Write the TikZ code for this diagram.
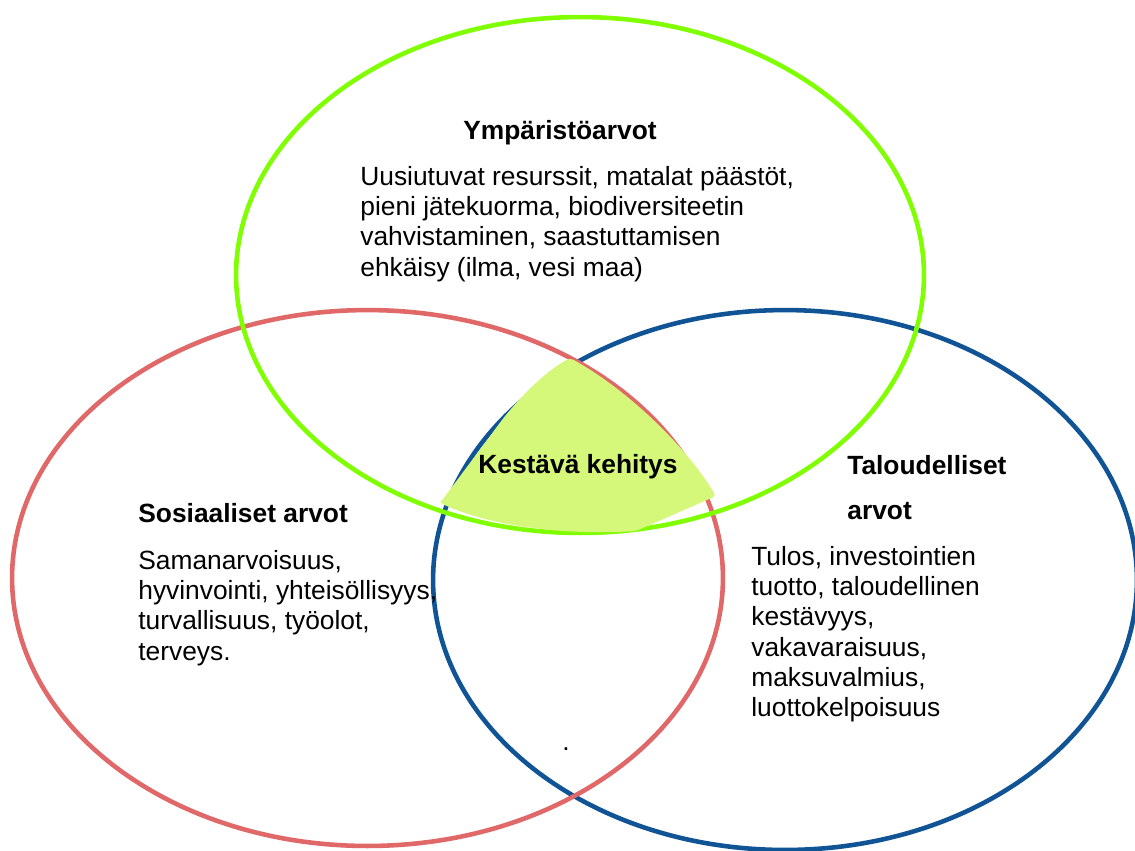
\documentclass[tikz,border=0pt]{standalone}
\usepackage{fontspec}
\setmainfont{Liberation Sans}
\definecolor{envgreen}{RGB}{128,255,0}
\definecolor{socred}{RGB}{224,104,104}
\definecolor{ecoblue}{RGB}{16,84,150}
\definecolor{corefill}{RGB}{213,248,122}
\begin{document}
\begin{tikzpicture}[x=0.02cm,y=-0.02cm,
  ring/.style={line width=2.6pt},
  txt/.style={anchor=base west, inner sep=0pt, font=\fontsize{15}{17.3}\selectfont},
  ttl/.style={txt, font=\fontsize{15}{17.3}\selectfont\bfseries}]
\useasboundingbox (0,0) rectangle (1135,850);
\fill[white] (0,0) rectangle (1135,850);
% circles
\draw[ring, ecoblue] (785,580) ellipse [x radius=7.04cm, y radius=5.4cm];
\draw[ring, socred] (367.5,578) ellipse [x radius=7.11cm, y radius=5.36cm];
\draw[ring, envgreen] (580,275) ellipse [x radius=6.88cm, y radius=5.16cm];
% core region
\fill[corefill, rounded corners=2pt] (440,503) -- (505,416)
  .. controls (527,390) and (548,370) .. (570,358)
  .. controls (620,385) and (682,440) .. (716,496)
  -- (636,531)
  .. controls (570,535) and (495,528) .. (440,503) -- cycle;
% texts
\node[ttl] (envtitle) at (463,139) {Ympäristöarvot};
\node[txt] (envbody) at (360,185) {\begin{tabular}[t]{@{}l@{}}Uusiutuvat resurssit, matalat päästöt,\\
pieni jätekuorma, biodiversiteetin\\
vahvistaminen, saastuttamisen\\
ehkäisy (ilma, vesi maa)\end{tabular}};
\node[ttl] (core) at (478,473) {Kestävä kehitys};
\node[ttl] (soctitle) at (138,522) {Sosiaaliset arvot};
\node[txt] (socbody) at (138,569) {\begin{tabular}[t]{@{}l@{}}Samanarvoisuus,\\
hyvinvointi, yhteisöllisyys,\\
turvallisuus, työolot,\\
terveys.\end{tabular}};
\node[ttl] (taltitle) at (847,474) {Taloudelliset};
\node[ttl] (taltitle2) at (847,519) {arvot};
\node[txt] (talbody) at (751,565) {\begin{tabular}[t]{@{}l@{}}Tulos, investointien\\
tuotto, taloudellinen\\
kestävyys,\\
vakavaraisuus,\\
maksuvalmius,\\
luottokelpoisuus\end{tabular}};
\node[txt] (dot) at (562,750) {.};
\end{tikzpicture}
\end{document}
